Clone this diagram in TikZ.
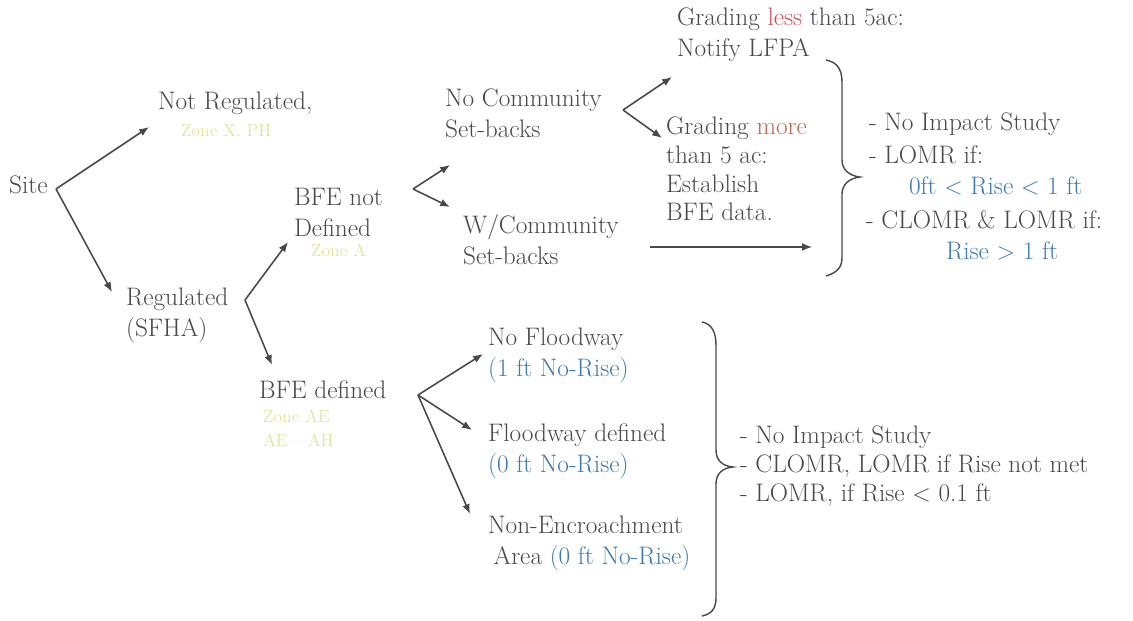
\documentclass[tikz,border=0pt]{standalone}
\usetikzlibrary{arrows.meta}

\definecolor{inkgray}{RGB}{72,72,72}
\definecolor{riseblue}{RGB}{62,122,178}
\definecolor{lessred}{RGB}{205,80,92}
\definecolor{morered}{RGB}{192,104,82}
\definecolor{zoneyellow}{RGB}{226,228,150}

\tikzset{
  txt/.style={font=\fontsize{18}{22}\selectfont, text=inkgray, align=left, anchor=west, inner sep=2pt},
  zone/.style={txt, text=zoneyellow, font=\fontsize{12.5}{17}\selectfont},
  arr/.style={-{Latex[length=7pt,width=5.5pt]}, draw=inkgray, line width=1.1pt},
  brace/.style={draw=inkgray, line width=1pt}
}

\begin{document}
\begin{tikzpicture}[x=0.025cm,y=-0.025cm]
\useasboundingbox (0,0) rectangle (1133,620);

% tree nodes
\node[txt] (site) at (6,185) {Site};
\node[txt] (notreg) at (155,103) {Not Regulated,};
\node[zone] (zonex) at (178,132) {Zone X, PH};
\node[txt] (reg) at (123,315) {Regulated\\(SFHA)};
\node[txt] (bfend) at (291,212) {BFE not\\Defined};
\node[zone] (zonea) at (308,250) {Zone A};
\node[txt] (bfed) at (256,390) {BFE defined};
\node[zone] (zoneae) at (260,428) {Zone AE\\AE -- AH};
\node[txt] (nocomm) at (442,113) {No Community\\Set-backs};
\node[txt] (wcomm) at (460,240) {W/Community\\Set-backs};
\node[txt] (gless) at (674,35) {Grading \textcolor{lessred}{less} than 5ac:\\Notify LFPA};
\node[txt, font=\fontsize{18}{20.5}\selectfont] (gmore) at (663,169) {Grading \textcolor{morered}{more}\\than 5 ac:\\Establish\\BFE data.};
\node[txt] (nofw) at (485,355) {No Floodway\\\textcolor{riseblue}{(1 ft No-Rise)}};
\node[txt] (fwdef) at (485,451) {Floodway defined\\\textcolor{riseblue}{(0 ft No-Rise)}};
\node[txt] (nonenc) at (485,543) {Non-Encroachment\\\hspace{4pt}Area \textcolor{riseblue}{(0 ft No-Rise)}};

% outcomes
\node[txt] (upA) at (866,124) {- No Impact Study};
\node[txt] (upB) at (866,155) {- LOMR if:};
\node[txt, text=riseblue] (upC) at (906,186) {0ft $<$ Rise $<$ 1 ft};
\node[txt] (upD) at (863,220) {- CLOMR \& LOMR if:};
\node[txt, text=riseblue] (upE) at (943,251) {Rise $>$ 1 ft};
\node[txt, font=\fontsize{18}{20.5}\selectfont] (lowA) at (737,466) {- No Impact Study\\- CLOMR, LOMR if Rise not met\\- LOMR, if Rise $<$ 0.1 ft};

% branch points
\coordinate (bSite) at (56,189);
\coordinate (bReg) at (245,300);
\coordinate (bNotDef) at (413,189);
\coordinate (bNoComm) at (623,110);
\coordinate (bDef) at (418,395);

\draw[arr] (bSite) -- ([shift={(-6,24)}]notreg.west);
\draw[arr] (bSite) -- ([shift={(-11,-23)}]reg.west);
\draw[arr] (bReg) -- ([shift={(-3,30)}]bfend.west);
\draw[arr] (bReg) -- ([shift={(16,-25)}]bfed.west);
\draw[arr] (bNotDef) -- ([shift={(8,52)}]nocomm.west);
\draw[arr] (bNotDef) -- ([shift={(-10,-33)}]wcomm.west);
\draw[arr] (bNoComm) -- ([shift={(-2,42)}]gless.west);
\draw[arr] (bNoComm) -- ([shift={(-1,-31)}]gmore.west);
\draw[arr] (bDef) -- ([shift={(-2,-1)}]nofw.west);
\draw[arr] (bDef) -- ([shift={(-13,-21)}]fwdef.west);
\draw[arr] (bDef) -- ([shift={(-15,-29)}]nonenc.west);

% upper brace
\coordinate (tipU) at (860,177);
\draw[brace] (826,60) .. controls (836,62) and (842,68) .. (842,82)
  -- (842,160) .. controls (842,170) and (850,176) .. (tipU)
  .. controls (850,178) and (842,184) .. (842,194)
  -- (842,258) .. controls (842,268) and (836,273) .. (826,276);
\coordinate (wEnd) at (812,247);
\draw[arr, line width=0.9pt] (650,247) -- (wEnd);

% lower brace
\coordinate (tipL) at (733,467);
\draw[brace] (702,322) .. controls (712,324) and (716,332) .. (716,346)
  -- (716,450) .. controls (716,460) and (722,466) .. (tipL)
  .. controls (722,468) and (716,474) .. (716,484)
  -- (716,598) .. controls (716,608) and (712,614) .. (702,616);
\end{tikzpicture}
\end{document}
